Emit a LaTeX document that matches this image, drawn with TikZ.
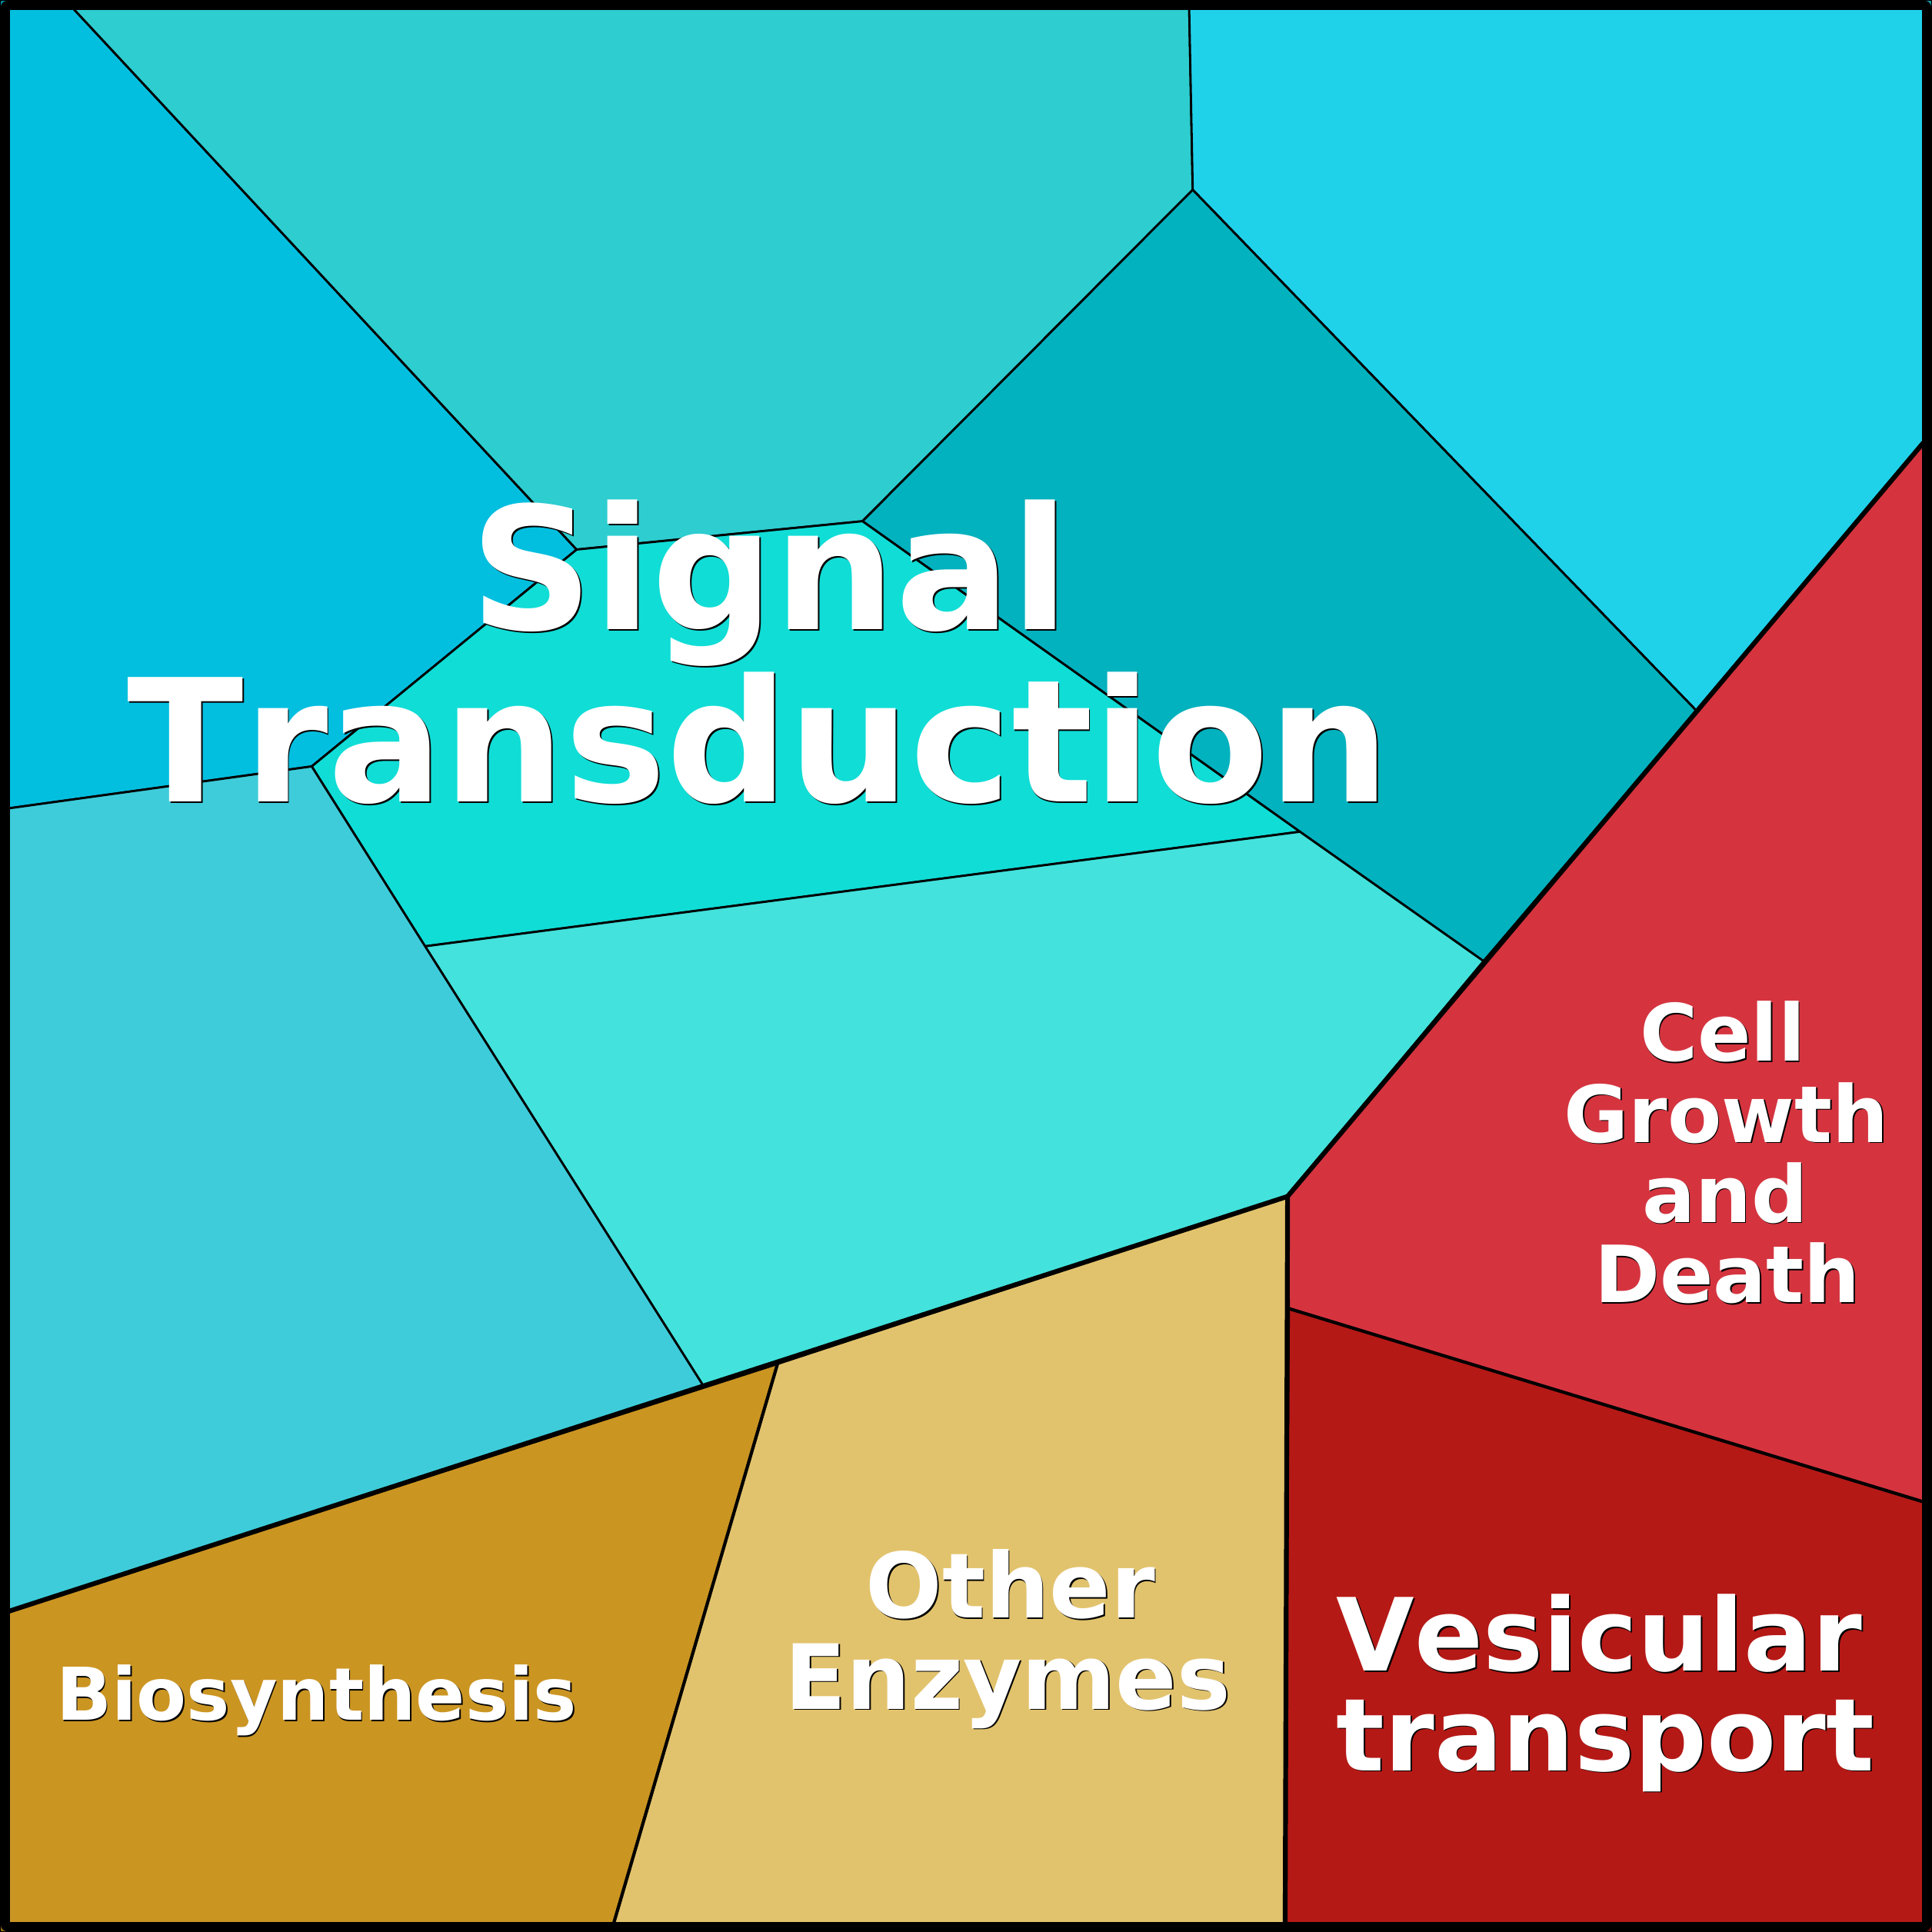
\documentclass[tikz,border=0pt]{standalone}
\usepackage{fontspec}
\setmainfont{DejaVu Sans}[Kerning=Off]
\definecolor{cTL}{HTML}{03BFDF}
\definecolor{cTC}{HTML}{2DCDD0}
\definecolor{cTR}{HTML}{20D1EA}
\definecolor{cDT}{HTML}{02B2BE}
\definecolor{cCB}{HTML}{10DDD6}
\definecolor{cLT}{HTML}{43E2DC}
\definecolor{cLB}{HTML}{3ECCDA}
\definecolor{cRD}{HTML}{D5343F}
\definecolor{cDR}{HTML}{B51916}
\definecolor{cBG}{HTML}{CB9522}
\definecolor{cOE}{HTML}{E2C36D}
\newcommand\olabel[4]{%
  \node[font=#3, text=black, anchor=base, inner sep=0, xshift=0.3pt, yshift=-0.3pt] at (#2) {#4};
  \node[font=#3, text=white, anchor=base, inner sep=0] (#1) at (#2) {#4};}
\tikzset{
  cell/.style={draw=black, line width=0.5pt, line join=round},
  grpline/.style={draw=black, line width=1.1pt, line cap=round, line join=round},
  midline/.style={draw=black, line width=0.75pt, line cap=round},
}
\begin{document}
\begin{tikzpicture}[x=0.01cm, y=-0.01cm]
\useasboundingbox (0,0) rectangle (1568,1568);
% vertices
\coordinate (O0) at (0,0);
\coordinate (O1) at (1568,0);
\coordinate (O2) at (1568,1568);
\coordinate (O3) at (0,1568);
\coordinate (a) at (53,0);
\coordinate (b) at (965,0);
\coordinate (c) at (968,154);
\coordinate (d) at (700,423);
\coordinate (e) at (468,446);
\coordinate (f) at (253,622);
\coordinate (g) at (0,657);
\coordinate (h) at (1568,351);
\coordinate (i) at (1377,577);
\coordinate (j) at (1204,780);
\coordinate (k) at (1055,675);
\coordinate (l) at (345,768);
\coordinate (m) at (1045,971);
\coordinate (n) at (571,1125);
\coordinate (o) at (0,1310);
\coordinate (p) at (1046,1062);
\coordinate (q) at (1568,1221);
\coordinate (r) at (1043,1568);
\coordinate (s) at (631,1107);
\coordinate (t) at (496,1568);
% cells
\filldraw[cell, fill=cTL] (O0) -- (a) -- (e) -- (f) -- (g) -- cycle;
\filldraw[cell, fill=cTC] (a) -- (b) -- (c) -- (d) -- (e) -- cycle;
\filldraw[cell, fill=cTR] (b) -- (O1) -- (h) -- (i) -- (c) -- cycle;
\filldraw[cell, fill=cDT] (d) -- (c) -- (i) -- (j) -- (k) -- cycle;
\filldraw[cell, fill=cCB] (e) -- (d) -- (k) -- (l) -- (f) -- cycle;
\filldraw[cell, fill=cLT] (l) -- (k) -- (j) -- (m) -- (n) -- cycle;
\filldraw[cell, fill=cLB] (g) -- (f) -- (l) -- (n) -- (o) -- cycle;
\filldraw[cell, fill=cRD] (m) -- (h) -- (q) -- (p) -- cycle;
\filldraw[cell, fill=cDR] (p) -- (q) -- (O2) -- (r) -- cycle;
\filldraw[cell, fill=cBG] (o) -- (s) -- (t) -- (O3) -- cycle;
\filldraw[cell, fill=cOE] (s) -- (m) -- (r) -- (t) -- cycle;
% group borders
\draw[midline] (p) -- (q);
\draw[midline] (s) -- (t);
\draw[grpline] (o) -- (m);
\draw[grpline] (m) -- (h);
\draw[grpline] (m) -- (r);
% outer frame
\draw[line width=2.3pt, rounded corners=1pt] (4,4) rectangle (1564,1564);
% labels
\olabel{st1}{625,511}{\fontsize{39.4}{40}\bfseries}{Signal}
\olabel{st2}{616,651}{\fontsize{39.4}{40}\bfseries}{Transduction}
\olabel{oe1}{820,1313}{\fontsize{20.8}{21}\bfseries}{Other}
\olabel{oe2}{818,1387}{\fontsize{20.8}{21}\bfseries}{Enzymes}
\olabel{vt1}{1298,1356}{\fontsize{23.3}{24}\bfseries}{Vesicular}
\olabel{vt2}{1303,1437}{\fontsize{23.3}{24}\bfseries}{transport}
\olabel{cg1}{1398,861}{\fontsize{18.2}{19}\bfseries}{Cell}
\olabel{cg2}{1401,927}{\fontsize{18.2}{19}\bfseries}{Growth}
\olabel{cg3}{1400,992}{\fontsize{18.2}{19}\bfseries}{and}
\olabel{cg4}{1402,1057}{\fontsize{18.2}{19}\bfseries}{Death}
\olabel{bs}{257,1396}{\fontsize{16.8}{17}\bfseries}{Biosynthesis}
\end{tikzpicture}
\end{document}
